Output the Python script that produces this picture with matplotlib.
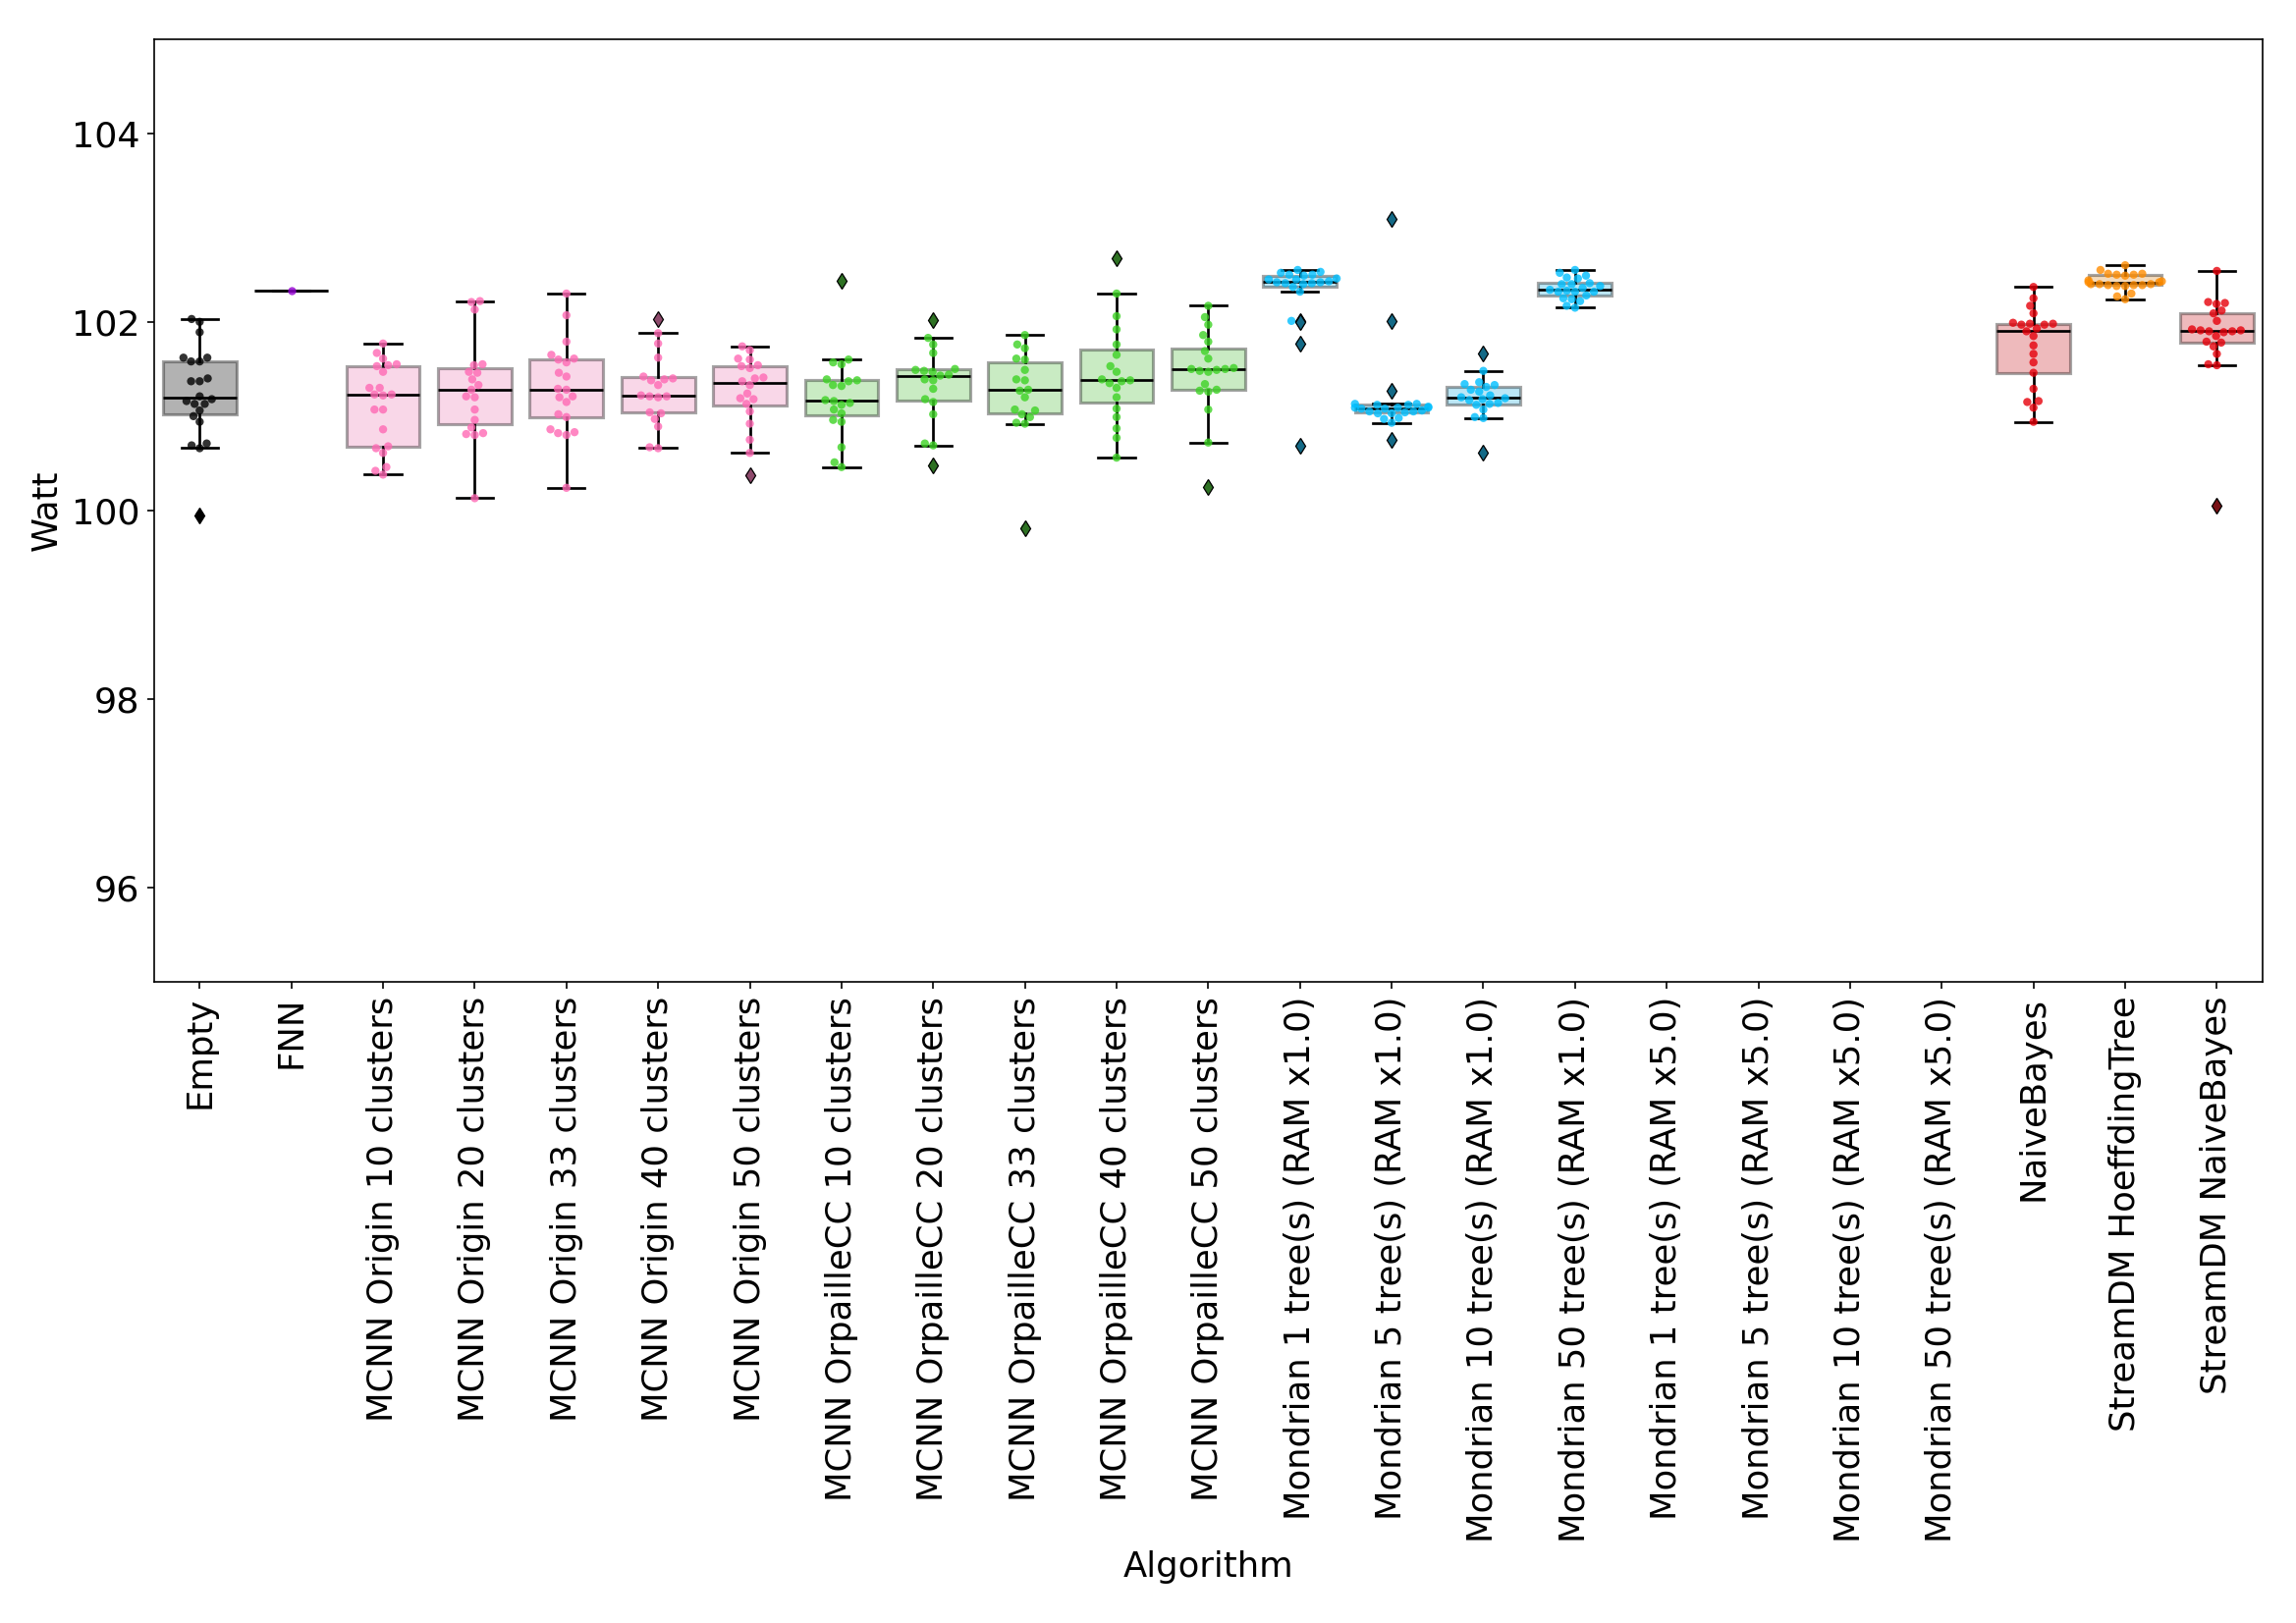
import matplotlib
matplotlib.use("Agg")
import matplotlib.pyplot as plt
import numpy as np
import pandas as pd
import seaborn as sns

# Categories (x axis order)
algorithms = [
    "Empty", "FNN",
    "MCNN Origin 10 clusters", "MCNN Origin 20 clusters", "MCNN Origin 33 clusters",
    "MCNN Origin 40 clusters", "MCNN Origin 50 clusters",
    "MCNN OrpailleCC 10 clusters", "MCNN OrpailleCC 20 clusters", "MCNN OrpailleCC 33 clusters",
    "MCNN OrpailleCC 40 clusters", "MCNN OrpailleCC 50 clusters",
    "Mondrian 1 tree(s) (RAM x1.0)", "Mondrian 5 tree(s) (RAM x1.0)",
    "Mondrian 10 tree(s) (RAM x1.0)", "Mondrian 50 tree(s) (RAM x1.0)",
    "Mondrian 1 tree(s) (RAM x5.0)", "Mondrian 5 tree(s) (RAM x5.0)",
    "Mondrian 10 tree(s) (RAM x5.0)", "Mondrian 50 tree(s) (RAM x5.0)",
    "NaiveBayes", "StreamDM HoeffdingTree", "StreamDM NaiveBayes",
]

# Measured power (Watt) per run
empty = [102.03, 102.00, 101.89, 101.62, 101.58, 101.58, 101.62, 101.40, 101.37, 101.37, 101.21,
         101.18, 101.16, 101.13, 101.13, 101.06, 101.00, 100.94, 100.71, 100.69, 100.66, 99.95]
fnn = [102.33]
origin_10 = [101.77, 101.67, 101.61, 101.55, 101.54, 101.53, 101.47, 101.30, 101.30, 101.23, 101.23,
             101.22, 101.07, 101.07, 100.86, 100.68, 100.66, 100.61, 100.46, 100.42, 100.38]
origin_20 = [102.22, 102.21, 102.13, 101.55, 101.54, 101.47, 101.46, 101.39, 101.33, 101.28, 101.21,
             101.20, 101.07, 100.96, 100.88, 100.82, 100.81, 100.80, 100.13]
origin_33 = [102.30, 102.07, 101.79, 101.65, 101.61, 101.60, 101.57, 101.46, 101.42, 101.29, 101.28,
             101.21, 101.20, 101.15, 101.02, 100.99, 100.86, 100.83, 100.82, 100.80, 100.24]
origin_40 = [102.03, 101.88, 101.77, 101.62, 101.42, 101.40, 101.39, 101.38, 101.33, 101.22, 101.21,
             101.21, 101.20, 101.04, 101.03, 100.97, 100.89, 100.67, 100.66]
origin_50 = [101.74, 101.70, 101.61, 101.60, 101.54, 101.53, 101.51, 101.41, 101.40, 101.37, 101.33,
             101.24, 101.19, 101.18, 101.13, 101.05, 100.92, 100.75, 100.61, 100.37]
cc_10 = [102.43, 101.60, 101.57, 101.55, 101.39, 101.38, 101.37, 101.33, 101.32, 101.16, 101.17,
         101.14, 101.12, 101.07, 101.03, 100.96, 100.94, 100.67, 100.51, 100.46]
cc_20 = [102.02, 101.83, 101.76, 101.67, 101.50, 101.49, 101.48, 101.47, 101.44, 101.43, 101.39,
         101.38, 101.29, 101.18, 101.15, 101.02, 100.71, 100.69, 100.48]
cc_33 = [101.86, 101.76, 101.72, 101.61, 101.60, 101.49, 101.39, 101.38, 101.28, 101.27, 101.20,
         101.07, 101.06, 101.02, 100.99, 100.93, 100.92, 99.81]
cc_40 = [102.67, 102.30, 102.06, 101.92, 101.76, 101.65, 101.53, 101.47, 101.39, 101.38, 101.37,
         101.35, 101.30, 101.20, 101.08, 100.99, 100.87, 100.77, 100.56]
cc_50 = [102.17, 102.05, 101.97, 101.86, 101.79, 101.69, 101.61, 101.51, 101.50, 101.50, 101.49,
         101.48, 101.47, 101.34, 101.28, 101.27, 101.26, 101.07, 100.72, 100.25]
mondrian_1 = [102.55, 102.53, 102.52, 102.50, 102.50, 102.49, 102.46, 102.45, 102.45, 102.43, 102.42,
              102.42, 102.41, 102.41, 102.40, 102.37, 102.32, 102.01, 102.00, 101.77, 100.69]
mondrian_5 = [103.09, 102.01, 101.27, 101.13, 101.13, 101.12, 101.12, 101.10, 101.09, 101.09, 101.09,
              101.08, 101.08, 101.06, 101.05, 101.05, 101.04, 101.03, 101.03, 100.98, 100.97, 100.93, 100.75]
mondrian_10 = [101.66, 101.48, 101.36, 101.34, 101.33, 101.31, 101.28, 101.26, 101.22, 101.20, 101.19,
               101.18, 101.17, 101.14, 101.13, 101.12, 101.07, 100.99, 100.98, 100.61]
mondrian_50 = [102.55, 102.52, 102.49, 102.47, 102.46, 102.41, 102.40, 102.40, 102.38, 102.36, 102.34,
               102.33, 102.32, 102.32, 102.32, 102.28, 102.25, 102.24, 102.22, 102.17, 102.15]
mondrian_1_x5 = []
mondrian_5_x5 = []
mondrian_10_x5 = []
mondrian_50_x5 = []
naive_bayes = [102.37, 102.25, 102.17, 102.09, 101.99, 101.98, 101.98, 101.97, 101.97, 101.93, 101.90,
               101.85, 101.75, 101.66, 101.57, 101.46, 101.29, 101.16, 101.15, 101.09, 100.94]
hoeffding = [102.60, 102.55, 102.51, 102.51, 102.50, 102.50, 102.49, 102.44, 102.43, 102.42, 102.42,
             102.40, 102.40, 102.40, 102.39, 102.39, 102.39, 102.38, 102.38, 102.30, 102.27, 102.24]
streamdm_nb = [102.54, 102.21, 102.20, 102.19, 102.12, 102.09, 102.01, 101.92, 101.91, 101.91, 101.90,
               101.90, 101.89, 101.85, 101.79, 101.78, 101.74, 101.66, 101.55, 101.54, 100.05]

series = [empty, fnn, origin_10, origin_20, origin_33, origin_40, origin_50,
          cc_10, cc_20, cc_33, cc_40, cc_50,
          mondrian_1, mondrian_5, mondrian_10, mondrian_50,
          mondrian_1_x5, mondrian_5_x5, mondrian_10_x5, mondrian_50_x5,
          naive_bayes, hoeffding, streamdm_nb]

# colour per algorithm family
black = "#000000"
violet = "#9400d3"
pink = "#ff69b4"
green = "#3dd324"
blue = "#00bfff"
red = "#e6000a"
orange = "#ff8c00"
colors = [black, violet] + [pink] * 5 + [green] * 5 + [blue] * 8 + [red, orange, red]

fig = plt.figure(figsize=(2338 / 150, 1653 / 150), dpi=150)
ax = fig.add_subplot(111)
fig.subplots_adjust(left=0.067, right=0.9855, top=0.976, bottom=0.395)

# Boxes
pos = [i for i, s in enumerate(series) if len(s) > 0]
box_data = [series[i] for i in pos]
bp = ax.boxplot(box_data, positions=pos, widths=0.8, patch_artist=True, whis=1.5,
                manage_ticks=False,
                medianprops=dict(color="black", linewidth=1.3, zorder=2),
                whiskerprops=dict(color="black", linewidth=1.3, zorder=2),
                capprops=dict(color="black", linewidth=1.3, zorder=2),
                boxprops=dict(linewidth=1.5, zorder=1),
                flierprops=dict(marker="d", markersize=5.5, markeredgecolor="black",
                                markeredgewidth=0.6, zorder=4))
for k, i in enumerate(pos):
    c = sns.desaturate(colors[i], 0.75)
    bp["boxes"][k].set_facecolor((*c, 0.3))
    bp["boxes"][k].set_edgecolor((0, 0, 0, 0.35))
    dark = tuple(v * 0.6 for v in c)
    bp["fliers"][k].set_markerfacecolor(dark)

# Swarm of individual runs
rows = []
for name, vals in zip(algorithms, series):
    for v in vals:
        rows.append((name, v))
df = pd.DataFrame(rows, columns=["Algorithm", "Watt"])
palette = dict(zip(algorithms, colors))
sns.swarmplot(data=df, x="Algorithm", y="Watt", hue="Algorithm", order=algorithms,
              hue_order=algorithms, palette=palette, size=4, alpha=0.8, legend=False,
              ax=ax, zorder=3)

ax.set_xlim(-0.5, len(algorithms) - 0.5)
ax.set_ylim(95, 105)
ax.set_yticks([96, 98, 100, 102, 104])
ax.set_xticks(range(len(algorithms)))
ax.set_xticklabels(algorithms, rotation=90, fontsize=17)
ax.tick_params(axis="y", labelsize=17.5)
ax.set_xlabel("Algorithm", fontsize=17)
ax.set_ylabel("Watt", fontsize=17)
for sp in ax.spines.values():
    sp.set_visible(True)
    sp.set_color("black")

fig.savefig("out.png", dpi=150)
plt.close()
